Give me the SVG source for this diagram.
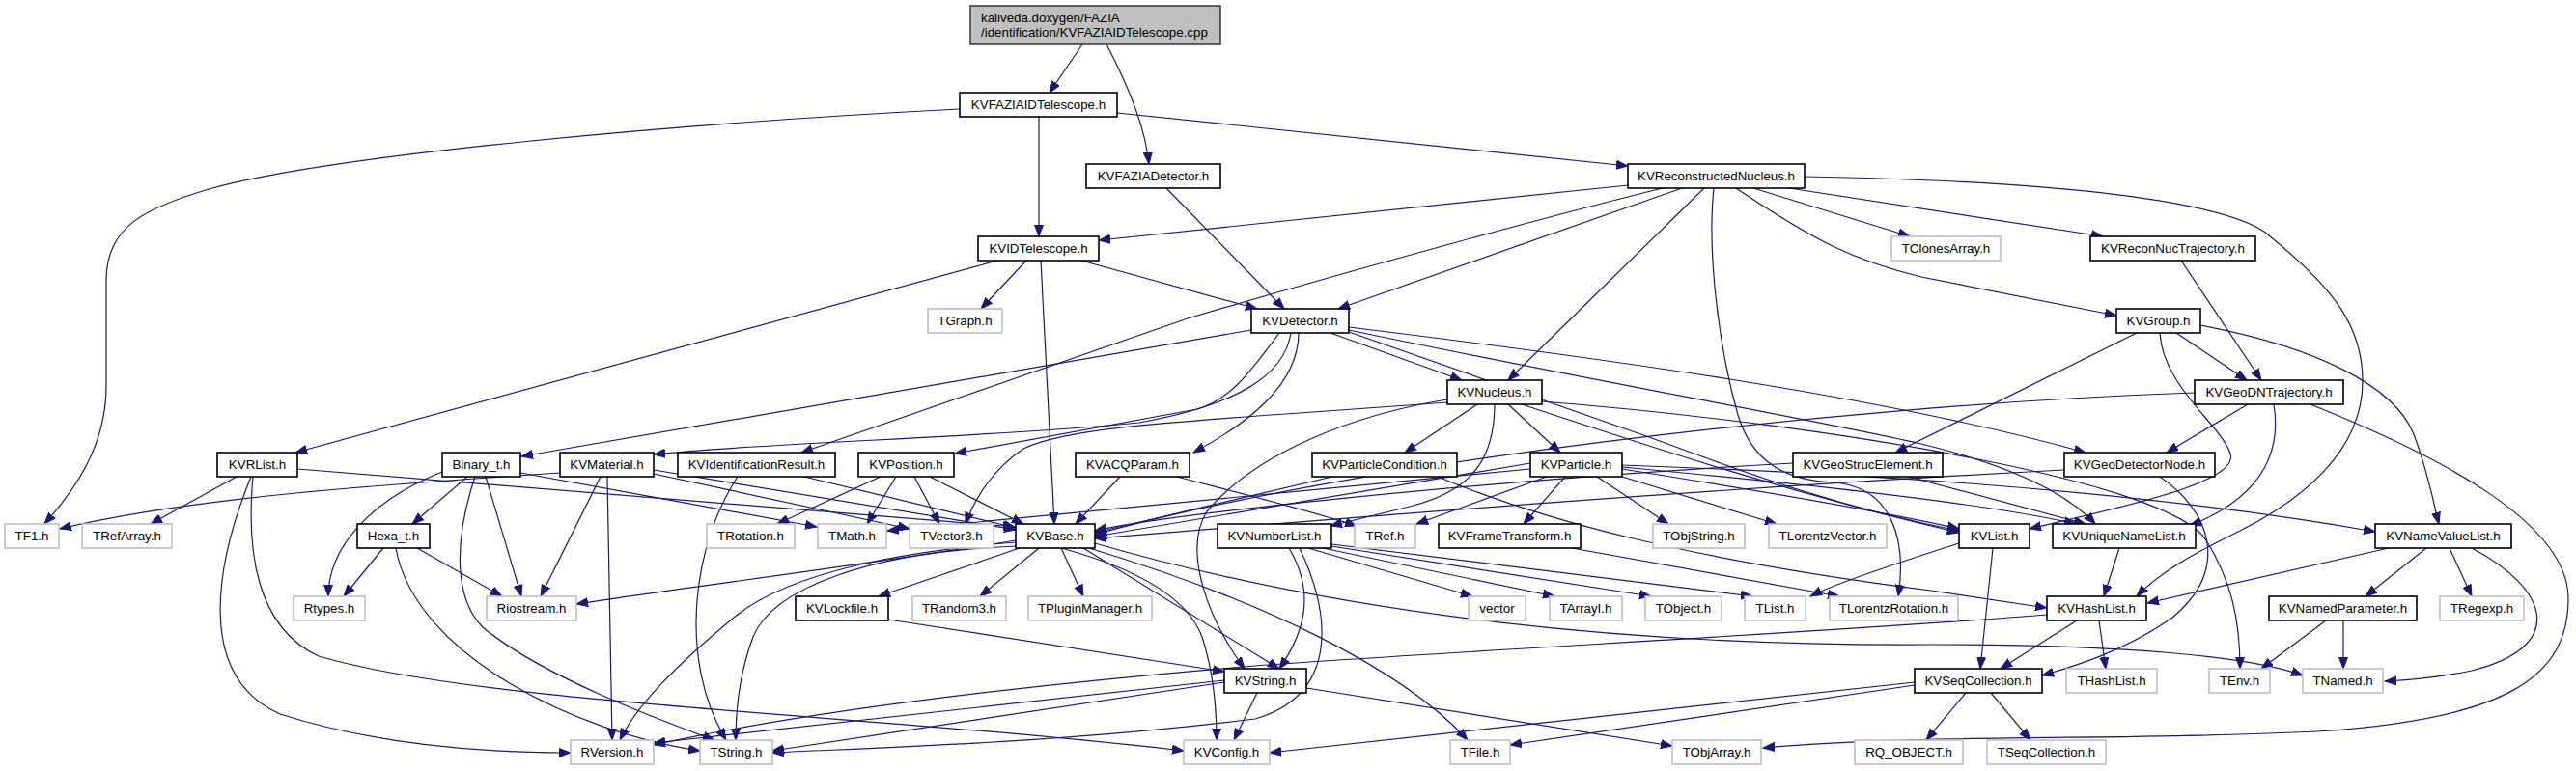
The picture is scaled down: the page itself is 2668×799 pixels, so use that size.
<svg xmlns="http://www.w3.org/2000/svg" width="2668" height="799" viewBox="0 0 2668 799">
<defs>
<marker id="a" markerWidth="13" markerHeight="10" refX="12" refY="5" orient="auto" markerUnits="userSpaceOnUse"><path d="M0,0.5 L12,5 L0,9.5 z" fill="#191970" stroke="#191970" stroke-width="1"/></marker>
<style>
text{font-family:"Liberation Sans",Arial,Helvetica,sans-serif;font-size:13.33px;fill:#000;text-anchor:middle}
.n rect{fill:#fff;stroke:#000;stroke-width:1.6}
.s rect{fill:#fff;stroke:#bfbfbf;stroke-width:1.6}
.r rect{fill:#bfbfbf;stroke:#404040;stroke-width:1.6}
.r text{text-anchor:start}
#edges path{fill:none;stroke:#191970;stroke-width:1.2;marker-end:url(#a)}
</style>
</defs>
<rect width="2668" height="799" fill="#fff"/>
<g id="edges">
<path d="M1121,46 L1087,96"/>
<path d="M1146,46 C1165,82 1186,130 1190,170"/>
<path d="M994,113 C700,128 350,160 220,195 C150,215 110,235 110,290 L110,400 C110,460 80,505 46,543"/>
<path d="M1076,121 L1076,245"/>
<path d="M1157,117 L1686,172"/>
<path d="M1208,195 L1330,320"/>
<path d="M1686,192 L1138,249"/>
<path d="M1722,195 C1600,225 1400,280 1230,330 L830,469"/>
<path d="M1742,195 L1386,320"/>
<path d="M1765,195 L1562,394"/>
<path d="M1775,195 C1768,260 1780,360 1800,430 C1815,480 1850,498 1900,500 C1960,505 1975,560 1966,618"/>
<path d="M1798,195 C1880,250 1920,270 1990,287 L2192,327"/>
<path d="M1816,195 L1978,245"/>
<path d="M1853,195 L2178,245"/>
<path d="M1869,183 C2150,188 2300,210 2345,240 C2420,300 2447,340 2447,395 C2447,470 2380,520 2320,550 C2280,570 2240,590 2213,618"/>
<path d="M1033,270 L306,469"/>
<path d="M1063,270 L1016,320"/>
<path d="M1078,270 L1092,543"/>
<path d="M1120,270 L1302,320"/>
<path d="M2259,270 L2342,394"/>
<path d="M1296,342 L540,473"/>
<path d="M1325,345 C1295,385 1275,414 1240,424 L989,470"/>
<path d="M1337,345 C1330,390 1280,420 1180,438 C1000,455 800,458 677,471"/>
<path d="M1345,345 C1345,400 1290,440 1236,469"/>
<path d="M1378,345 L1514,394"/>
<path d="M1397,339 C1650,370 1950,410 2160,469"/>
<path d="M1397,342 C1650,395 1880,435 1990,460 C2080,482 2140,510 2170,543"/>
<path d="M1397,344 L1708,453 C1800,487 1900,525 2029,550"/>
<path d="M1530,419 L1455,469"/>
<path d="M1562,419 L1616,469"/>
<path d="M1499,417 L1360,427 C1200,438 1100,445 1060,465 C1030,485 1010,515 1000,543"/>
<path d="M1548,419 C1548,480 1520,510 1460,525 L1378,545"/>
<path d="M1499,414 C1400,430 1300,470 1250,530 C1225,570 1250,640 1289,693"/>
<path d="M1576,419 C1700,460 1850,510 2029,552"/>
<path d="M1597,416 C1900,440 2250,500 2285,560 C2310,600 2320,640 2320,693"/>
<path d="M484,494 L427,543"/>
<path d="M458,489 C380,520 340,570 340,618"/>
<path d="M503,494 L540,618"/>
<path d="M492,494 C470,560 470,620 500,650 C560,700 680,745 740,767"/>
<path d="M539,490 L846,546"/>
<path d="M397,568 L356,618"/>
<path d="M432,568 L520,618"/>
<path d="M410,568 C430,680 600,760 725,778"/>
<path d="M245,494 L156,543"/>
<path d="M260,494 C225,580 200,700 290,740 C400,775 520,780 591,780"/>
<path d="M262,494 C255,570 265,650 330,680 C500,730 900,740 1226,778"/>
<path d="M308,486 L1051,546"/>
<path d="M580,490 C400,502 200,515 62,548"/>
<path d="M622,494 L560,618"/>
<path d="M629,494 L634,767"/>
<path d="M677,487 L1052,549"/>
<path d="M677,491 L942,548"/>
<path d="M833,494 L1052,547"/>
<path d="M764,494 C720,560 700,680 752,767"/>
<path d="M912,494 L805,543"/>
<path d="M928,494 L898,543"/>
<path d="M947,494 L973,543"/>
<path d="M963,494 L1060,543"/>
<path d="M1160,494 L1114,543"/>
<path d="M1215,493 C1280,510 1360,530 1405,545"/>
<path d="M1380,494 L1134,552"/>
<path d="M1489,494 C1600,540 1750,580 2000,612 L2120,630"/>
<path d="M1585,480 L1134,556"/>
<path d="M1585,486 L919,550"/>
<path d="M1602,494 L1467,543"/>
<path d="M1621,494 L1578,543"/>
<path d="M1654,494 L1728,543"/>
<path d="M1680,494 L1840,543"/>
<path d="M1680,486 C1800,505 1950,530 2029,548"/>
<path d="M1680,484 C1850,500 2050,520 2150,543"/>
<path d="M1680,482 C1900,490 2200,505 2460,551"/>
<path d="M1857,480 C1500,500 1200,535 1134,550"/>
<path d="M1977,494 L2160,543"/>
<path d="M2138,487 C1700,510 1300,545 1134,558"/>
<path d="M2237,494 C2290,530 2310,590 2250,640 C2200,675 2150,690 2115,700"/>
<path d="M2273,407 C1900,420 1400,480 1134,554"/>
<path d="M2328,419 L2244,469"/>
<path d="M2355,419 C2365,480 2330,520 2268,545"/>
<path d="M2393,419 C2520,470 2660,540 2660,620 C2660,700 2600,745 2400,758 C2200,768 2000,760 1826,775"/>
<path d="M2213,345 L1963,469"/>
<path d="M2237,345 C2240,400 2300,440 2310,470 C2320,500 2200,525 2102,548"/>
<path d="M2254,345 L2327,394"/>
<path d="M2279,337 C2400,360 2480,400 2500,450 C2515,490 2520,520 2526,543"/>
<path d="M2064,568 L2051,693"/>
<path d="M2029,563 C1960,585 1900,605 1875,618"/>
<path d="M2195,568 L2179,618"/>
<path d="M2474,568 L2224,625"/>
<path d="M2513,568 L2450,618"/>
<path d="M2537,568 L2560,618"/>
<path d="M2560,568 C2640,610 2660,670 2560,695 C2520,703 2490,705 2470,706"/>
<path d="M2151,643 L2072,693"/>
<path d="M2174,643 L2181,693"/>
<path d="M2120,637 C1900,655 1500,675 1300,690 C1000,715 800,745 677,772"/>
<path d="M2036,718 L1995,767"/>
<path d="M2062,718 L2103,767"/>
<path d="M1983,710 L1564,772"/>
<path d="M1983,707 L1315,780"/>
<path d="M2409,643 L2342,693"/>
<path d="M2427,643 L2427,693"/>
<path d="M1268,707 L800,778"/>
<path d="M1268,705 L677,770"/>
<path d="M1302,718 L1278,767"/>
<path d="M1353,713 L1732,773"/>
<path d="M920,642 L1268,696"/>
<path d="M1056,568 L910,618"/>
<path d="M1076,568 L1015,618"/>
<path d="M1099,568 L1122,618"/>
<path d="M1122,568 L1325,693"/>
<path d="M1099,568 C1180,590 1230,620 1245,660 C1258,700 1260,740 1260,767"/>
<path d="M1052,566 C900,572 800,610 780,660 C765,700 762,740 762,767"/>
<path d="M1052,562 C950,570 820,590 760,640 C700,690 660,730 642,767"/>
<path d="M1052,560 C900,585 700,610 597,626"/>
<path d="M1128,568 C1300,620 1450,690 1520,767"/>
<path d="M1134,563 C1400,640 1700,670 2000,668 C2200,668 2330,680 2385,700"/>
<path d="M1355,568 L1525,618"/>
<path d="M1370,568 L1610,618"/>
<path d="M1379,566 L1710,618"/>
<path d="M1379,564 L1815,618"/>
<path d="M1335,568 C1360,610 1355,650 1325,693"/>
<path d="M1346,568 C1380,640 1385,720 1300,745 C1100,770 900,775 800,780"/>
<path d="M1628,568 L1905,618"/>
</g>
<g id="root" class="r"><rect x="1005" y="6" width="259" height="40"/><text x="1016" y="23">kaliveda.doxygen/FAZIA</text><text x="1016" y="38">/identification/KVFAZIAIDTelescope.cpp</text></g>
<g id="KVFAZIAIDTelescope_h" class="n"><rect x="994" y="96" width="163" height="25"/><text x="1075.5" y="112.5">KVFAZIAIDTelescope.h</text></g>
<g id="KVFAZIADetector_h" class="n"><rect x="1125" y="170" width="139" height="25"/><text x="1194.5" y="186.5">KVFAZIADetector.h</text></g>
<g id="KVReconstructedNucleus_h" class="n"><rect x="1686" y="170" width="183" height="25"/><text x="1777.5" y="186.5">KVReconstructedNucleus.h</text></g>
<g id="KVIDTelescope_h" class="n"><rect x="1013" y="245" width="125" height="25"/><text x="1075.5" y="261.5">KVIDTelescope.h</text></g>
<g id="TClonesArray_h" class="s"><rect x="1959" y="245" width="113" height="25"/><text x="2015.5" y="261.5">TClonesArray.h</text></g>
<g id="KVReconNucTrajectory_h" class="n"><rect x="2165" y="245" width="171" height="25"/><text x="2250.5" y="261.5">KVReconNucTrajectory.h</text></g>
<g id="TGraph_h" class="s"><rect x="961" y="320" width="77" height="25"/><text x="999.5" y="336.5">TGraph.h</text></g>
<g id="KVDetector_h" class="n"><rect x="1296" y="320" width="101" height="25"/><text x="1346.5" y="336.5">KVDetector.h</text></g>
<g id="KVGroup_h" class="n"><rect x="2192" y="320" width="87" height="25"/><text x="2235.5" y="336.5">KVGroup.h</text></g>
<g id="KVNucleus_h" class="n"><rect x="1499" y="394" width="98" height="25"/><text x="1548" y="410.5">KVNucleus.h</text></g>
<g id="KVGeoDNTrajectory_h" class="n"><rect x="2273" y="394" width="154" height="25"/><text x="2350" y="410.5">KVGeoDNTrajectory.h</text></g>
<g id="KVRList_h" class="n"><rect x="225" y="469" width="83" height="25"/><text x="266.5" y="485.5">KVRList.h</text></g>
<g id="Binary_t_h" class="n"><rect x="458" y="469" width="81" height="25"/><text x="498.5" y="485.5">Binary_t.h</text></g>
<g id="KVMaterial_h" class="n"><rect x="580" y="469" width="97" height="25"/><text x="628.5" y="485.5">KVMaterial.h</text></g>
<g id="KVIdentificationResult_h" class="n"><rect x="702" y="469" width="163" height="25"/><text x="783.5" y="485.5">KVIdentificationResult.h</text></g>
<g id="KVPosition_h" class="n"><rect x="889" y="469" width="99" height="25"/><text x="938.5" y="485.5">KVPosition.h</text></g>
<g id="KVACQParam_h" class="n"><rect x="1114" y="469" width="118" height="25"/><text x="1173" y="485.5">KVACQParam.h</text></g>
<g id="KVParticleCondition_h" class="n"><rect x="1359" y="469" width="150" height="25"/><text x="1434" y="485.5">KVParticleCondition.h</text></g>
<g id="KVParticle_h" class="n"><rect x="1585" y="469" width="95" height="25"/><text x="1632.5" y="485.5">KVParticle.h</text></g>
<g id="KVGeoStrucElement_h" class="n"><rect x="1857" y="469" width="155" height="25"/><text x="1934.5" y="485.5">KVGeoStrucElement.h</text></g>
<g id="KVGeoDetectorNode_h" class="n"><rect x="2138" y="469" width="156" height="25"/><text x="2216" y="485.5">KVGeoDetectorNode.h</text></g>
<g id="TF1_h" class="s"><rect x="5" y="543" width="56" height="25"/><text x="33" y="559.5">TF1.h</text></g>
<g id="TRefArray_h" class="s"><rect x="85" y="543" width="93" height="25"/><text x="131.5" y="559.5">TRefArray.h</text></g>
<g id="Hexa_t_h" class="n"><rect x="370" y="543" width="75" height="25"/><text x="407.5" y="559.5">Hexa_t.h</text></g>
<g id="TRotation_h" class="s"><rect x="732" y="543" width="91" height="25"/><text x="777.5" y="559.5">TRotation.h</text></g>
<g id="TMath_h" class="s"><rect x="847" y="543" width="71" height="25"/><text x="882.5" y="559.5">TMath.h</text></g>
<g id="TVector3_h" class="s"><rect x="942" y="543" width="87" height="25"/><text x="985.5" y="559.5">TVector3.h</text></g>
<g id="KVBase_h" class="n"><rect x="1052" y="543" width="82" height="25"/><text x="1093" y="559.5">KVBase.h</text></g>
<g id="KVNumberList_h" class="n"><rect x="1261" y="543" width="118" height="25"/><text x="1320" y="559.5">KVNumberList.h</text></g>
<g id="TRef_h" class="s"><rect x="1403" y="543" width="63" height="25"/><text x="1434.5" y="559.5">TRef.h</text></g>
<g id="KVFrameTransform_h" class="n"><rect x="1490" y="543" width="147" height="25"/><text x="1563.5" y="559.5">KVFrameTransform.h</text></g>
<g id="TObjString_h" class="s"><rect x="1712" y="543" width="95" height="25"/><text x="1759.5" y="559.5">TObjString.h</text></g>
<g id="TLorentzVector_h" class="s"><rect x="1832" y="543" width="122" height="25"/><text x="1893" y="559.5">TLorentzVector.h</text></g>
<g id="KVList_h" class="n"><rect x="2029" y="543" width="73" height="25"/><text x="2065.5" y="559.5">KVList.h</text></g>
<g id="KVUniqueNameList_h" class="n"><rect x="2126" y="543" width="148" height="25"/><text x="2200" y="559.5">KVUniqueNameList.h</text></g>
<g id="KVNameValueList_h" class="n"><rect x="2460" y="543" width="141" height="25"/><text x="2530.5" y="559.5">KVNameValueList.h</text></g>
<g id="Rtypes_h" class="s"><rect x="304" y="618" width="74" height="25"/><text x="341" y="634.5">Rtypes.h</text></g>
<g id="Riostream_h" class="s"><rect x="504" y="618" width="93" height="25"/><text x="550.5" y="634.5">Riostream.h</text></g>
<g id="KVLockfile_h" class="n"><rect x="824" y="618" width="96" height="25"/><text x="872" y="634.5">KVLockfile.h</text></g>
<g id="TRandom3_h" class="s"><rect x="945" y="618" width="97" height="25"/><text x="993.5" y="634.5">TRandom3.h</text></g>
<g id="TPluginManager_h" class="s"><rect x="1065" y="618" width="128" height="25"/><text x="1129" y="634.5">TPluginManager.h</text></g>
<g id="vector" class="s"><rect x="1521" y="618" width="59" height="25"/><text x="1550.5" y="634.5">vector</text></g>
<g id="TArrayI_h" class="s"><rect x="1605" y="618" width="75" height="25"/><text x="1642.5" y="634.5">TArrayI.h</text></g>
<g id="TObject_h" class="s"><rect x="1704" y="618" width="79" height="25"/><text x="1743.5" y="634.5">TObject.h</text></g>
<g id="TList_h" class="s"><rect x="1807" y="618" width="63" height="25"/><text x="1838.5" y="634.5">TList.h</text></g>
<g id="TLorentzRotation_h" class="s"><rect x="1895" y="618" width="133" height="25"/><text x="1961.5" y="634.5">TLorentzRotation.h</text></g>
<g id="KVHashList_h" class="n"><rect x="2120" y="618" width="103" height="25"/><text x="2171.5" y="634.5">KVHashList.h</text></g>
<g id="KVNamedParameter_h" class="n"><rect x="2350" y="618" width="153" height="25"/><text x="2426.5" y="634.5">KVNamedParameter.h</text></g>
<g id="TRegexp_h" class="s"><rect x="2527" y="618" width="87" height="25"/><text x="2570.5" y="634.5">TRegexp.h</text></g>
<g id="KVString_h" class="n"><rect x="1268" y="693" width="85" height="25"/><text x="1310.5" y="709.5">KVString.h</text></g>
<g id="KVSeqCollection_h" class="n"><rect x="1983" y="693" width="132" height="25"/><text x="2049" y="709.5">KVSeqCollection.h</text></g>
<g id="THashList_h" class="s"><rect x="2140" y="693" width="94" height="25"/><text x="2187" y="709.5">THashList.h</text></g>
<g id="TEnv_h" class="s"><rect x="2288" y="693" width="63" height="25"/><text x="2319.5" y="709.5">TEnv.h</text></g>
<g id="TNamed_h" class="s"><rect x="2385" y="693" width="83" height="25"/><text x="2426.5" y="709.5">TNamed.h</text></g>
<g id="RVersion_h" class="s"><rect x="591" y="767" width="86" height="25"/><text x="634" y="783.5">RVersion.h</text></g>
<g id="TString_h" class="s"><rect x="725" y="767" width="75" height="25"/><text x="762.5" y="783.5">TString.h</text></g>
<g id="KVConfig_h" class="s"><rect x="1226" y="767" width="89" height="25"/><text x="1270.5" y="783.5">KVConfig.h</text></g>
<g id="TFile_h" class="s"><rect x="1502" y="767" width="62" height="25"/><text x="1533" y="783.5">TFile.h</text></g>
<g id="TObjArray_h" class="s"><rect x="1732" y="767" width="92" height="25"/><text x="1778" y="783.5">TObjArray.h</text></g>
<g id="RQ_OBJECT_h" class="s"><rect x="1921" y="767" width="112" height="25"/><text x="1977" y="783.5">RQ_OBJECT.h</text></g>
<g id="TSeqCollection_h" class="s"><rect x="2058" y="767" width="123" height="25"/><text x="2119.5" y="783.5">TSeqCollection.h</text></g>
</svg>
